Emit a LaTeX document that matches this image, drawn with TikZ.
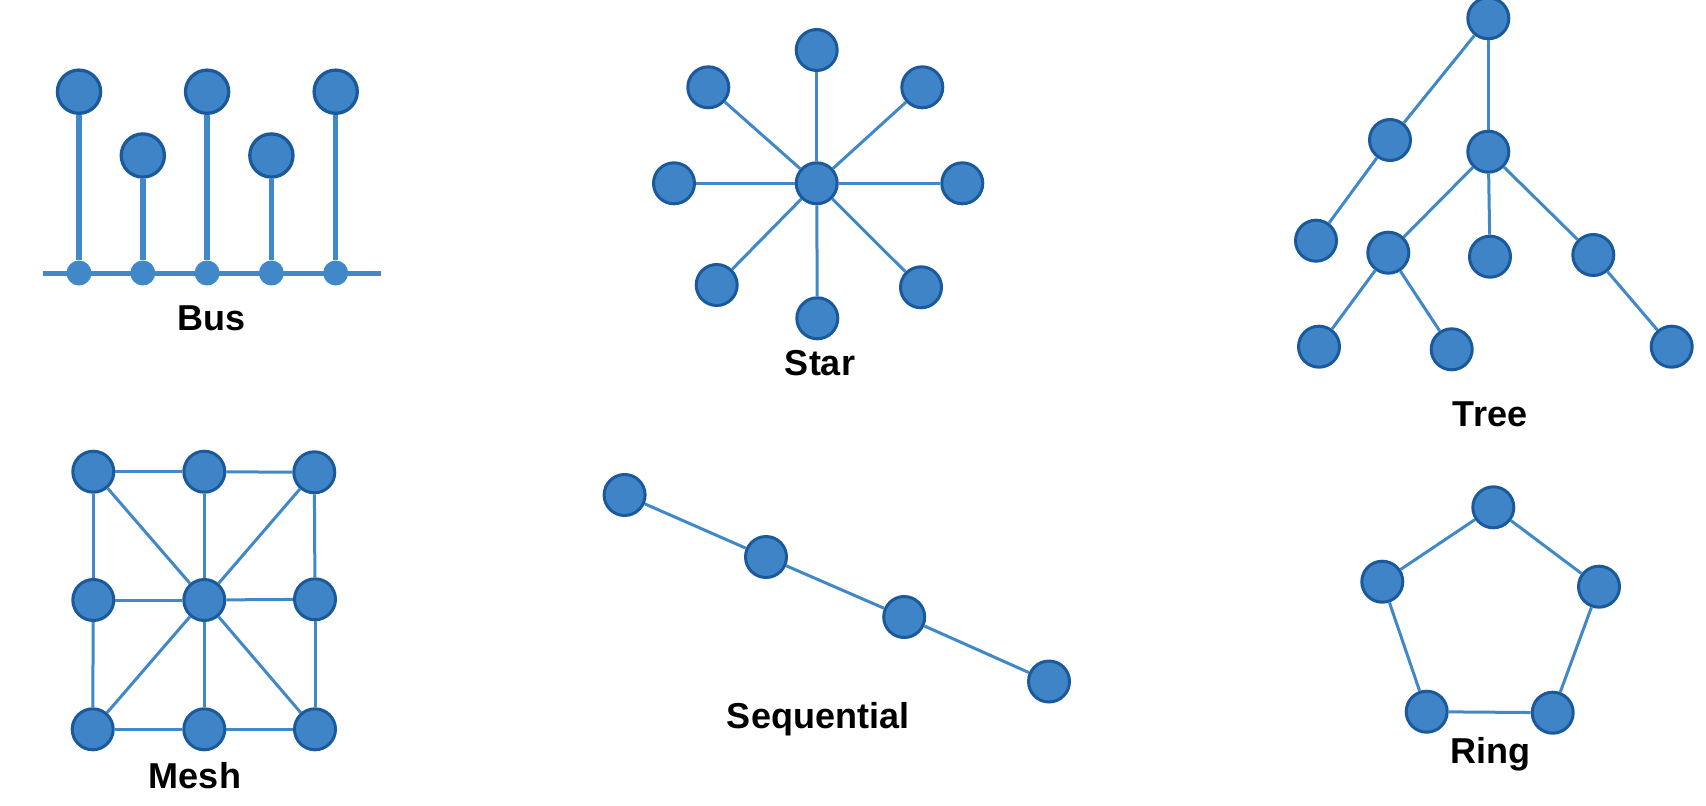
\documentclass[tikz,border=0pt]{standalone}
\usepackage{fontspec}
\setmainfont{Liberation Sans}
\definecolor{nodefill}{HTML}{3E84C6}
\definecolor{nodeline}{HTML}{1A5A9C}
\definecolor{edgecol}{HTML}{4088C8}

\begin{document}
\begin{tikzpicture}[x=1pt, y=-1pt,
    main/.style = {draw=nodeline, fill=nodefill, circle, line width=3pt, minimum size=41pt, inner sep=0pt},
    busnode/.style = {main, line width=3.3pt, minimum size=43.2pt},
    dot/.style = {fill=edgecol, circle, minimum size=25pt, inner sep=0pt},
    link/.style = {draw=edgecol, line width=3pt},
    lbl/.style = {font=\bfseries\fontsize{36}{40}\selectfont, anchor=base, inner sep=0pt}]
    \useasboundingbox (0,0) rectangle (1706,806);

    % Bus
    \coordinate (busL) at (43,273);
    \coordinate (busR) at (381,273);
    \draw[link, line width=5pt] (busL) -- (busR);
    \node[dot] (d1) at (79,273) {};
    \node[dot] (d2) at (142.8,273) {};
    \node[dot] (d3) at (207.1,273) {};
    \node[dot] (d4) at (271.4,273) {};
    \node[dot] (d5) at (335.7,273) {};
    \node[busnode] (b1) at (79,91.7) {};
    \node[busnode] (b2) at (142.8,155.5) {};
    \node[busnode] (b3) at (207.1,91.7) {};
    \node[busnode] (b4) at (271.4,155.5) {};
    \node[busnode] (b5) at (335.7,91.7) {};
    \foreach \i in {1,...,5}
        \draw[link, line width=5.5pt] (b\i) -- (d\i);
    \node[lbl] (bus) at (212,330) {Bus};

    % Star
    \node[main] (s0) at (816.7,183.3) {};
    \node[main] (s1) at (816.7,50) {};
    \node[main] (s2) at (922.3,87.3) {};
    \node[main] (s3) at (962.3,183.3) {};
    \node[main] (s4) at (921,287.3) {};
    \node[main] (s5) at (817.3,318.3) {};
    \node[main] (s6) at (716.7,285) {};
    \node[main] (s7) at (674,183.3) {};
    \node[main] (s8) at (708.3,87.3) {};
    \foreach \i in {1,...,8}
        \draw[link] (s0) -- (s\i);
    \node[lbl] (star) at (820,375.7) {Star};

    % Tree
    \node[main] (t1) at (1488.3,18.3) {};
    \node[main] (t2) at (1390,140) {};
    \node[main] (t3) at (1488.3,151.7) {};
    \node[main] (t4) at (1316,240.7) {};
    \node[main] (t5) at (1388.3,252.7) {};
    \node[main] (t6) at (1490,256.7) {};
    \node[main] (t7) at (1593.3,255) {};
    \node[main] (t8) at (1319,346.7) {};
    \node[main] (t9) at (1451.7,349.3) {};
    \node[main] (t10) at (1671.7,346.7) {};
    \draw[link] (t1) -- (t2);
    \draw[link] (t1) -- (t3);
    \draw[link] (t2) -- (t4);
    \draw[link] (t3) -- (t5);
    \draw[link] (t3) -- (t6);
    \draw[link] (t3) -- (t7);
    \draw[link] (t5) -- (t8);
    \draw[link] (t5) -- (t9);
    \draw[link] (t7) -- (t10);
    \node[lbl] (tree) at (1490,426) {Tree};

    % Mesh
    \node[main] (m1) at (93.3,471.7) {};
    \node[main] (m2) at (204.3,471.7) {};
    \node[main] (m3) at (314.3,472.3) {};
    \node[main] (m4) at (93.3,600) {};
    \node[main] (m5) at (204.3,600) {};
    \node[main] (m6) at (315,599.3) {};
    \node[main] (m7) at (92.7,729.3) {};
    \node[main] (m8) at (204.3,729.3) {};
    \node[main] (m9) at (315,729.3) {};
    \draw[link] (m1) -- (m2);
    \draw[link] (m2) -- (m3);
    \draw[link] (m4) -- (m5);
    \draw[link] (m5) -- (m6);
    \draw[link] (m7) -- (m8);
    \draw[link] (m8) -- (m9);
    \draw[link] (m1) -- (m4);
    \draw[link] (m4) -- (m7);
    \draw[link] (m2) -- (m5);
    \draw[link] (m5) -- (m8);
    \draw[link] (m3) -- (m6);
    \draw[link] (m6) -- (m9);
    \draw[link] (m5) -- (m1);
    \draw[link] (m5) -- (m3);
    \draw[link] (m5) -- (m7);
    \draw[link] (m5) -- (m9);
    \node[lbl] (mesh) at (195,788) {Mesh};

    % Sequential
    \node[main] (q1) at (624.6,495) {};
    \node[main] (q2) at (766,557) {};
    \node[main] (q3) at (904.2,617) {};
    \node[main] (q4) at (1049,681.5) {};
    \draw[link] (q1) -- (q2);
    \draw[link] (q2) -- (q3);
    \draw[link] (q3) -- (q4);
    \node[lbl] (seq) at (818,728) {Sequential};

    % Ring
    \node[main] (r1) at (1493.3,507.3) {};
    \node[main] (r2) at (1599,586.7) {};
    \node[main] (r3) at (1552.7,712.7) {};
    \node[main] (r4) at (1426.7,711.7) {};
    \node[main] (r5) at (1382.3,581.7) {};
    \draw[link] (r1) -- (r2) (r2) -- (r3) (r3) -- (r4) (r4) -- (r5) (r5) -- (r1);
    \node[lbl] (ring) at (1490,763) {Ring};
\end{tikzpicture}
\end{document}
